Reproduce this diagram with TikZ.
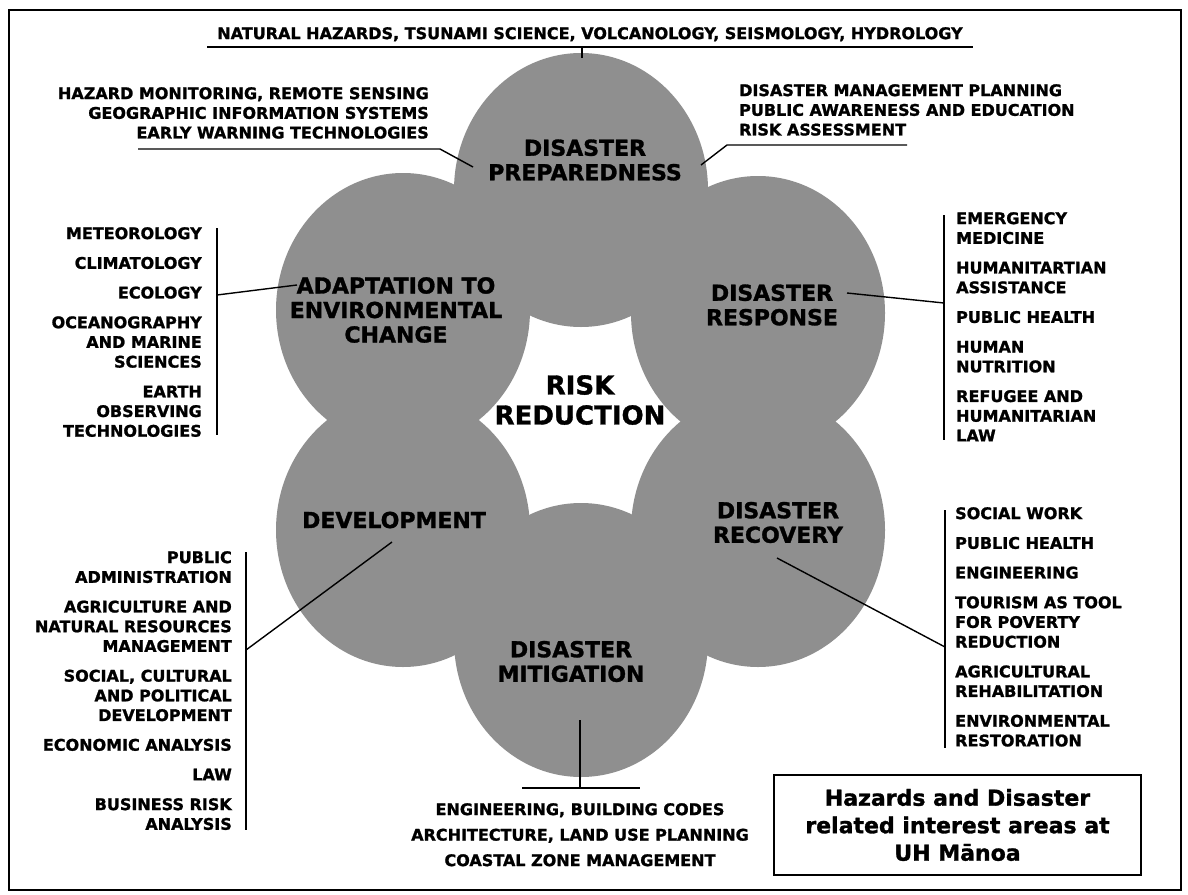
\documentclass[tikz,border=0pt]{standalone}
\usepackage{fontspec}
\setmainfont{DejaVu Sans}[BoldFeatures={FakeBold=1.3}]
\usetikzlibrary{positioning}
\begin{document}
\begin{tikzpicture}[
  x=1pt, y=-1pt,
  blob/.style = {fill=black!44},
  area/.style = {font=\bfseries\fontsize{22}{24.5}\selectfont, align=center, inner sep=0pt},
  core/.style = {font=\bfseries\fontsize{26}{30}\selectfont, align=center, inner sep=0pt},
  topics/.style = {font=\bfseries\fontsize{16}{19.7}\selectfont, inner sep=0pt},
  link/.style = {line width=1.4pt},
  caption/.style = {draw, line width=2pt, minimum width=367pt, minimum height=100pt, align=center, font=\bfseries\fontsize{22}{27.5}\selectfont}
  ]
	\useasboundingbox (0,0) rectangle (1188,894);
	\draw[line width=1.5pt] (9,10) rectangle (1181,890);

	\fill[blob] (581,190) ellipse [x radius=127pt, y radius=137pt];
	\fill[blob] (758,313) ellipse [x radius=127pt, y radius=137pt];
	\fill[blob] (758,530) ellipse [x radius=127pt, y radius=137pt];
	\fill[blob] (581,640) ellipse [x radius=127pt, y radius=137pt];
	\fill[blob] (403,530) ellipse [x radius=127pt, y radius=137pt];
	\fill[blob] (403,310) ellipse [x radius=127pt, y radius=137pt];

	\coordinate (@top1) at (207,47);
	\coordinate (@top2) at (973,47);
	\coordinate (@top3) at (582,47);
	\coordinate (@top4) at (582,58);
	\coordinate (@mon1) at (138,149);
	\coordinate (@mon2) at (440,149);
	\coordinate (@mon3) at (473,167);
	\coordinate (@plan1) at (907,145);
	\coordinate (@plan2) at (727,145);
	\coordinate (@plan3) at (701,165);
	\coordinate (@ad1) at (217,228);
	\coordinate (@ad2) at (217,435);
	\coordinate (@ad3) at (217,295);
	\coordinate (@ad4) at (297,285);
	\coordinate (@re1) at (944,215);
	\coordinate (@re2) at (944,440);
	\coordinate (@re3) at (944,303);
	\coordinate (@re4) at (847,293);
	\coordinate (@dv1) at (246,552);
	\coordinate (@dv2) at (246,830);
	\coordinate (@dv3) at (246,650);
	\coordinate (@dv4) at (392,542);
	\coordinate (@rc1) at (945,510);
	\coordinate (@rc2) at (945,748);
	\coordinate (@rc3) at (945,647);
	\coordinate (@rc4) at (777,558);
	\coordinate (@mi1) at (522,788);
	\coordinate (@mi2) at (640,788);
	\coordinate (@mi3) at (580,788);
	\coordinate (@mi4) at (580,720);

	\node[area] (prep) at (585,160) {DISASTER\\PREPAREDNESS};
	\node[area] (resp) at (772,305) {DISASTER\\RESPONSE};
	\node[area] (recov) at (778,522.5) {DISASTER\\RECOVERY};
	\node[area] (mitig) at (571,661.5) {DISASTER\\MITIGATION};
	\node[area] (devel) at (394,520) {DEVELOPMENT};
	\node[area] (adapt) at (396,310) {ADAPTATION TO\\ENVIRONMENTAL\\CHANGE};
	\node[core] (risk) at (580,400) {RISK\\REDUCTION};

	\node[topics, anchor=north] (hazards) at (590,27) {NATURAL HAZARDS, TSUNAMI SCIENCE, VOLCANOLOGY, SEISMOLOGY, HYDROLOGY};
	\node[topics, anchor=north east, align=right] (monitor) at (429,87) {HAZARD MONITORING, REMOTE SENSING\\GEOGRAPHIC INFORMATION SYSTEMS\\EARLY WARNING TECHNOLOGIES};
	\node[topics, anchor=north west, align=left] (planning) at (739,84) {DISASTER MANAGEMENT PLANNING\\PUBLIC AWARENESS AND EDUCATION\\RISK ASSESSMENT};
	\node[topics, anchor=north east, align=right] (adaptlist) at (202,227) {METEOROLOGY\\[10pt]CLIMATOLOGY\\[10pt]ECOLOGY\\[10pt]OCEANOGRAPHY\\AND MARINE\\SCIENCES\\[10pt]EARTH\\OBSERVING\\TECHNOLOGIES};
	\node[topics, anchor=north west, align=left] (resplist) at (956,212) {EMERGENCY\\MEDICINE\\[10pt]HUMANITARTIAN\\ASSISTANCE\\[10pt]PUBLIC HEALTH\\[10pt]HUMAN\\NUTRITION\\[10pt]REFUGEE AND\\HUMANITARIAN\\LAW};
	\node[topics, anchor=north west, align=left] (recovlist) at (955,507) {SOCIAL WORK\\[10pt]PUBLIC HEALTH\\[10pt]ENGINEERING\\[10pt]TOURISM AS TOOL\\FOR POVERTY\\REDUCTION\\[10pt]AGRICULTURAL\\REHABILITATION\\[10pt]ENVIRONMENTAL\\RESTORATION};
	\node[topics, anchor=north east, align=right] (devlist) at (232,551) {PUBLIC\\ADMINISTRATION\\[10pt]AGRICULTURE AND\\NATURAL RESOURCES\\MANAGEMENT\\[10pt]SOCIAL, CULTURAL\\AND POLITICAL\\DEVELOPMENT\\[10pt]ECONOMIC ANALYSIS\\[10pt]LAW\\[10pt]BUSINESS RISK\\ANALYSIS};
	\node[topics, anchor=north, align=center, font=\bfseries\fontsize{16}{25.5}\selectfont] (codes) at (580,803) {ENGINEERING, BUILDING CODES\\ARCHITECTURE, LAND USE PLANNING\\COASTAL ZONE MANAGEMENT};
	\node[caption] (note) at (957.5,825) {Hazards and Disaster\\related interest areas at\\UH Mānoa};

	\draw[link] (@top1) -- (@top2);
	\draw[link] (@top3) -- (@top4);
	\draw[link] (@mon1) -- (@mon2) -- (@mon3);
	\draw[link] (@plan1) -- (@plan2) -- (@plan3);
	\draw[link] (@ad1) -- (@ad2);
	\draw[link] (@ad3) -- (@ad4);
	\draw[link] (@re1) -- (@re2);
	\draw[link] (@re3) -- (@re4);
	\draw[link] (@dv1) -- (@dv2);
	\draw[link] (@dv3) -- (@dv4);
	\draw[link] (@rc1) -- (@rc2);
	\draw[link] (@rc3) -- (@rc4);
	\draw[link] (@mi1) -- (@mi2);
	\draw[link] (@mi3) -- (@mi4);

\end{tikzpicture}
\end{document}
